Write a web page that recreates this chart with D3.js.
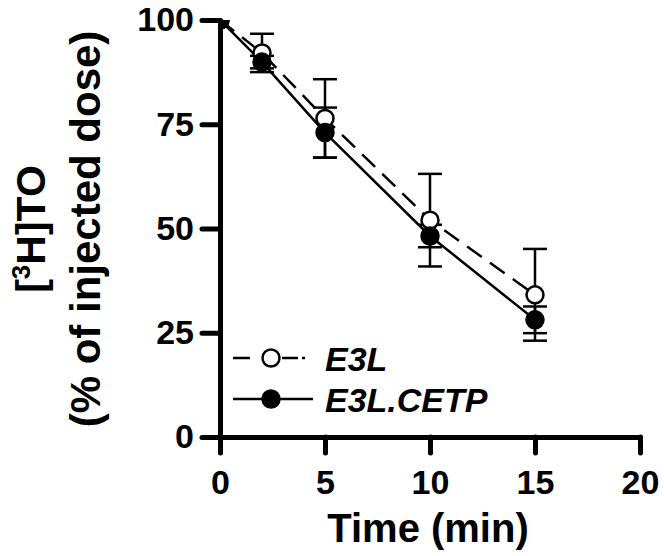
<!DOCTYPE html>
<html>
<head>
<meta charset="utf-8">
<script src="https://cdn.jsdelivr.net/npm/d3@7"></script>
<style>
  html, body { margin: 0; padding: 0; background: #fff; }
  svg { display: block; font-family: "Liberation Sans", Arial, sans-serif; font-weight: bold; }
</style>
</head>
<body>
<svg id="chart"></svg>
<script>
// time points (min)
const times = [0, 2, 5, 10, 15];
// E3L (open circles, dashed)
const e3lMean = [100, 92.1, 76.4, 52.0, 34.1];
const e3lSD = [0, 4.6, 9.4, 11.1, 11.0];
// E3L.CETP (filled circles, solid)
const cetpMean = [100, 89.9, 73.0, 48.2, 28.1];
const cetpSD = [0, 1.5, 6.0, 2.7, 3.2];

const xTicks = [0, 5, 10, 15, 20];
const yTicks = [0, 25, 50, 75, 100];

const series = [
    { name: 'E3L', mean: e3lMean, sd: e3lSD, fill: '#fff', dash: '18,10', legendDash: '17,32,16,4,3,100' },
    { name: 'E3L.CETP', mean: cetpMean, sd: cetpSD, fill: '#000', dash: null, legendDash: null }
];

const width = 664, height = 556;
const x = d3.scaleLinear().domain([0, 20]).range([220, 640]);
const y = d3.scaleLinear().domain([0, 100]).range([437, 20]);

const svg = d3.select('#chart').attr('width', width).attr('height', height);
svg.append('rect').attr('width', width).attr('height', height).attr('fill', '#fff');

svg.append('defs').append('clipPath').attr('id', 'plot')
    .append('rect')
    .attr('x', x(0)).attr('y', y(100))
    .attr('width', 440).attr('height', y(0) - y(100) + 20);

// axes
const xAxis = svg.append('g')
    .attr('transform', `translate(0,${y(0)})`)
    .call(d3.axisBottom(x).tickValues(xTicks).tickSize(16).tickSizeOuter(0).tickPadding(17));
const yAxis = svg.append('g')
    .attr('transform', `translate(${x(0)},0)`)
    .call(d3.axisLeft(y).tickValues(yTicks).tickSize(18).tickSizeOuter(0).tickPadding(8));

[xAxis, yAxis].forEach(g => {
    g.select('.domain').attr('stroke', '#000').attr('stroke-width', 5).attr('stroke-linecap', 'round');
    g.selectAll('.tick line').attr('stroke', '#000').attr('stroke-width', 5).attr('stroke-linecap', 'round');
    g.selectAll('.tick text')
        .attr('fill', '#000')
        .style('font-family', '"Liberation Sans", Arial, sans-serif')
        .style('font-weight', 'bold')
        .style('font-size', '34px');
});

// data
const plot = svg.append('g').attr('clip-path', 'url(#plot)');
const line = d3.line().x((d, i) => x(times[i])).y(d => y(d));

series.forEach(s => {
    plot.append('path')
        .attr('d', line(s.mean))
        .attr('fill', 'none')
        .attr('stroke', '#000')
        .attr('stroke-width', 2.5)
        .attr('stroke-dasharray', s.dash);
});

series.forEach(s => {
    const g = plot.append('g');
    s.mean.forEach((m, i) => {
        if (!s.sd[i]) return;
        const cx = x(times[i]);
        const top = y(m + s.sd[i]);
        const bot = y(m - s.sd[i]);
        g.append('line').attr('x1', cx).attr('x2', cx).attr('y1', top).attr('y2', bot)
            .attr('stroke', '#000').attr('stroke-width', 2.5);
        [top, bot].forEach(v => {
            g.append('line').attr('x1', cx - 12).attr('x2', cx + 12).attr('y1', v).attr('y2', v)
                .attr('stroke', '#000').attr('stroke-width', 2.5);
        });
    });
});

series.forEach(s => {
    plot.append('g')
        .selectAll('circle')
        .data(s.mean)
        .join('circle')
        .attr('cx', (d, i) => x(times[i]))
        .attr('cy', d => y(d))
        .attr('r', 8.5)
        .attr('fill', s.fill)
        .attr('stroke', '#000')
        .attr('stroke-width', 2.5);
});

// legend
const legend = svg.append('g');
series.forEach((s, i) => {
    const ly = 358 + i * 41;
    legend.append('line')
        .attr('x1', 233).attr('x2', s.legendDash ? 305 : 313).attr('y1', ly).attr('y2', ly)
        .attr('stroke', '#000').attr('stroke-width', 2.5)
        .attr('stroke-dasharray', s.legendDash);
    legend.append('circle')
        .attr('cx', 271).attr('cy', ly).attr('r', 8.5)
        .attr('fill', s.fill).attr('stroke', '#000').attr('stroke-width', 2.5);
    legend.append('text')
        .attr('x', 325).attr('y', ly + 13)
        .style('font-size', '34px')
        .style('font-style', 'italic')
        .text(s.name);
});

// axis titles
svg.append('text')
    .attr('x', 428).attr('y', 542)
    .attr('text-anchor', 'middle')
    .style('font-size', '40px')
    .text('Time (min)');

const yt1 = svg.append('text')
    .attr('transform', 'translate(45,229) rotate(-90)')
    .attr('text-anchor', 'middle')
    .style('font-size', '41px');
yt1.append('tspan').text('[');
yt1.append('tspan').attr('dy', -15).style('font-size', '26px').text('3');
yt1.append('tspan').attr('dy', 15).text('H]TO');

svg.append('text')
    .attr('transform', 'translate(100,229) rotate(-90)')
    .attr('text-anchor', 'middle')
    .style('font-size', '42px')
    .text('(% of injected dose)');
</script>
</body>
</html>
